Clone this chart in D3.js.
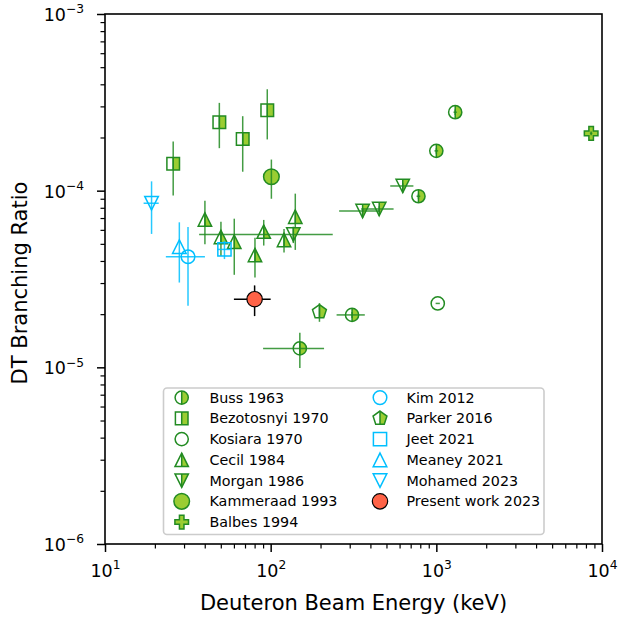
<!DOCTYPE html>
<html><head><meta charset="utf-8">
<script src="https://cdn.jsdelivr.net/npm/d3@7"></script>
<style>
body{margin:0;background:#fff}
svg{display:block}
text{font-family:"DejaVu Sans",sans-serif;fill:#000}
</style>
</head><body>
<svg id="c" width="618" height="618"></svg>
<script>
// ---------------- data ----------------
const bussE = [150, 310, 780, 1000, 1300];
const bussBR = [1.28e-5, 1.98e-5, 9.3e-5, 1.68e-4, 2.78e-4];
const bussEErr = [60, 60, 20, 25, 30];
const bussBRErr = [0.29e-5, 0.08e-5, 0.3e-5, 0.6e-5, 1.0e-5];

const bezE = [25.8, 49, 67.8, 95.4];
const bezBR = [1.42e-4, 2.44e-4, 1.96e-4, 2.85e-4];
const bezEErr = [0, 0, 0, 0];
const bezBRErr = [0.48e-4, 0.70e-4, 0.68e-4, 0.90e-4];

const kosE = [1020];
const kosBR = [2.3e-5];
const kosEErr = [30];
const kosBRErr = [0];

const cecE = [40.1, 50.1, 60.3, 80.4, 90.8, 120.4, 140.8];
const cecBR = [6.87e-5, 5.47e-5, 5.14e-5, 4.32e-5, 5.86e-5, 5.26e-5, 7.12e-5];
const cecEErr = [0, 0, 0, 0, 0, 0, 0];
const cecBRErr = [1.9e-5, 1.2e-5, 1.8e-5, 1.1e-5, 0.97e-5, 0.8e-5, 2.5e-5];

const morE = [137, 359, 452, 627];
const morBR = [5.65e-5, 7.67e-5, 7.87e-5, 1.063e-4];
const morEErr = [100, 100, 100, 100];
const morBRErr = [0.6e-5, 0.3e-5, 0.3e-5, 0.4e-5];

const kamE = [101];
const kamBR = [1.2e-4];
const kamEErr = [0];
const kamBRErr = [0.3e-4];

const balE = [8600];
const balBR = [2.11e-4];
const balEErr = [150];
const balBRErr = [0.05e-4];

const kimE = [31.7];
const kimBR = [4.23e-5];
const kimEErr = [8.4];
const kimBRErr = [2.0e-5];

const parE = [197];
const parBR = [2.06e-5];
const parEErr = [0];
const parBRErr = [0.25e-5];

const jeetE = [52.6];
const jeetBR = [4.65e-5];
const jeetEErr = [5];
const jeetBRErr = [0.55e-5];

const meaE = [28.1];
const meaBR = [4.82e-5];
const meaEErr = [0];
const meaBRErr = [1.8e-5];

const mohE = [19.1];
const mohBR = [8.49e-5];
const mohEErr = [2];
const mohBRErr = [2.8e-5];

const preE = [80];
const preBR = [2.43e-5];
const preEErr = [20];
const preBRErr = [0.48e-5];

const seriesLabels = ["Buss 1963","Bezotosnyi 1970","Kosiara 1970","Cecil 1984","Morgan 1986",
  "Kammeraad 1993","Balbes 1994","Kim 2012","Parker 2016","Jeet 2021","Meaney 2021",
  "Mohamed 2023","Present work 2023"];
const xTickExp = [1, 2, 3, 4];
const yTickExp = [-6, -5, -4, -3];

// ---------------- styles ----------------
const GREEN = "#228B22", LIGHT = "#9ACD32", CYAN = "#00BFFF", TOMATO = "#FF6347";
const zip = (e, v, ex, ey) => e.map((d, i) => ({e: d, v: v[i], ex: ex[i], ey: ey[i]}));
const series = [
  {label: seriesLabels[0], pts: zip(bussE, bussBR, bussEErr, bussBRErr), shape: "circle", size: 6.6, fill: "right", edge: GREEN, face: LIGHT, bar: GREEN, top: true},
  {label: seriesLabels[1], pts: zip(bezE, bezBR, bezEErr, bezBRErr), shape: "square", size: 6.3, fill: "right", edge: GREEN, face: LIGHT, bar: GREEN, top: true},
  {label: seriesLabels[2], pts: zip(kosE, kosBR, kosEErr, kosBRErr), shape: "circle", size: 6.6, fill: "none", edge: GREEN, face: LIGHT, bar: GREEN, top: true},
  {label: seriesLabels[3], pts: zip(cecE, cecBR, cecEErr, cecBRErr), shape: "triUp", size: 6.7, fill: "right", edge: GREEN, face: LIGHT, bar: GREEN, top: true},
  {label: seriesLabels[4], pts: zip(morE, morBR, morEErr, morBRErr), shape: "triDown", size: 6.7, fill: "right", edge: GREEN, face: LIGHT, bar: GREEN, top: true},
  {label: seriesLabels[5], pts: zip(kamE, kamBR, kamEErr, kamBRErr), shape: "circle", size: 7.8, fill: "full", edge: GREEN, face: LIGHT, bar: GREEN, top: true},
  {label: seriesLabels[6], pts: zip(balE, balBR, balEErr, balBRErr), shape: "plus", size: 6.8, fill: "full", edge: GREEN, face: LIGHT, bar: GREEN, top: true},
  {label: seriesLabels[7], pts: zip(kimE, kimBR, kimEErr, kimBRErr), shape: "circle", size: 6.8, fill: "none", edge: CYAN, face: CYAN, bar: CYAN, top: true},
  {label: seriesLabels[8], pts: zip(parE, parBR, parEErr, parBRErr), shape: "pent", size: 7.3, fill: "right", edge: GREEN, face: LIGHT, bar: GREEN, top: true},
  {label: seriesLabels[9], pts: zip(jeetE, jeetBR, jeetEErr, jeetBRErr), shape: "square", size: 6.6, fill: "none", edge: CYAN, face: CYAN, bar: CYAN, top: true},
  {label: seriesLabels[10], pts: zip(meaE, meaBR, meaEErr, meaBRErr), shape: "triUp", size: 6.8, fill: "none", edge: CYAN, face: CYAN, bar: CYAN, top: true},
  {label: seriesLabels[11], pts: zip(mohE, mohBR, mohEErr, mohBRErr), shape: "triDown", size: 6.8, fill: "none", edge: CYAN, face: CYAN, bar: CYAN, top: true},
  {label: seriesLabels[12], pts: zip(preE, preBR, preEErr, preBRErr), shape: "circle", size: 7.7, fill: "full", edge: "#000", face: TOMATO, bar: "#000", top: false, sw: 1.2}
];

// ---------------- geometry ----------------
const m = {l: 105, r: 602, t: 14, b: 544};
const svg = d3.select("#c");
const x = d3.scaleLog().domain([10, 1e4]).range([m.l, m.r]);
const y = d3.scaleLog().domain([1e-6, 1e-3]).range([m.b, m.t]);

const defs = svg.append("defs");
defs.append("clipPath").attr("id", "rh").attr("clipPathUnits", "objectBoundingBox")
  .append("rect").attr("x", 0.5).attr("y", 0).attr("width", 0.5).attr("height", 1);
defs.append("clipPath").attr("id", "plot")
  .append("rect").attr("x", m.l).attr("y", m.t).attr("width", m.r - m.l).attr("height", m.b - m.t);

function shapePath(shape, s) {
  if (shape === "circle") return {d: `M${s},0A${s},${s} 0 1,1 ${-s},0A${s},${s} 0 1,1 ${s},0Z`, top: -s, bot: s};
  if (shape === "square") return {d: `M${-s},${-s}H${s}V${s}H${-s}Z`, top: -s, bot: s};
  if (shape === "triUp") return {d: `M0,${-s}L${s},${s}L${-s},${s}Z`, top: -s, bot: s};
  if (shape === "triDown") return {d: `M0,${s}L${s},${-s}L${-s},${-s}Z`, top: -s, bot: s};
  if (shape === "pent") {
    const p = d3.range(5).map(k => { const a = (-90 + 72 * k) * Math.PI / 180; return [s * Math.cos(a), s * Math.sin(a)]; });
    return {d: "M" + p.map(q => q.join(",")).join("L") + "Z", top: -s, bot: s * Math.cos(Math.PI / 5)};
  }
  if (shape === "plus") {
    const a = s, b = s / 3;
    return {d: `M${-b},${-a}H${b}V${-b}H${a}V${b}H${b}V${a}H${-b}V${b}H${-a}V${-b}H${-b}Z`, top: -a, bot: a};
  }
}

function drawMarker(g, sr, cx, cy) {
  const sp = shapePath(sr.shape, sr.size);
  const sw = sr.sw || 1.5;
  const mg = g.append("g").attr("transform", `translate(${cx},${cy})`);
  if (sr.fill === "full") {
    mg.append("path").attr("d", sp.d).attr("fill", sr.face).attr("stroke", sr.edge).attr("stroke-width", sw);
  } else if (sr.fill === "right") {
    mg.append("path").attr("d", sp.d).attr("fill", sr.face).attr("stroke", "none").attr("clip-path", "url(#rh)");
    mg.append("line").attr("x1", 0).attr("x2", 0).attr("y1", sp.top).attr("y2", sp.bot)
      .attr("stroke", sr.edge).attr("stroke-width", sw);
    mg.append("path").attr("d", sp.d).attr("fill", "none").attr("stroke", sr.edge).attr("stroke-width", sw)
      .attr("stroke-linejoin", "miter");
  } else {
    mg.append("path").attr("d", sp.d).attr("fill", "none").attr("stroke", sr.edge).attr("stroke-width", sw);
  }
}

function drawBars(g, sr) {
  const op = sr.bar === "#000" ? 1 : 0.85;
  sr.pts.forEach(p => {
    if (p.ey > 0) g.append("line").attr("x1", x(p.e)).attr("x2", x(p.e))
      .attr("y1", y(p.v - p.ey)).attr("y2", y(p.v + p.ey))
      .attr("stroke", sr.bar).attr("stroke-width", 1.5).attr("stroke-opacity", op);
    if (p.ex > 0) g.append("line").attr("y1", y(p.v)).attr("y2", y(p.v))
      .attr("x1", x(p.e - p.ex)).attr("x2", x(p.e + p.ex))
      .attr("stroke", sr.bar).attr("stroke-width", 1.5).attr("stroke-opacity", op);
  });
}

// ---------------- axes ----------------
const supLabel = (sel) => sel.each(function(d) {
  const t = d3.select(this); t.text(null);
  t.append("tspan").text("10");
  const e = Math.round(Math.log10(d));
  t.append("tspan").attr("font-size", "0.7em").attr("dy", "-0.65em").text(String(e).replace("-", "\u2212"));
});

const xMajor = xTickExp.map(e => Math.pow(10, e));
const yMajor = yTickExp.map(e => Math.pow(10, e));
const xMinor = d3.range(1, 4).flatMap(e => d3.range(2, 10).map(k => k * Math.pow(10, e)));
const yMinor = d3.range(-6, -3).flatMap(e => d3.range(2, 10).map(k => k * Math.pow(10, e)));

const gx = svg.append("g").attr("transform", `translate(0,${m.b})`);
gx.append("g").call(d3.axisBottom(x).tickValues(xMinor).tickSize(4.5).tickFormat(""))
  .call(g => g.select(".domain").remove())
  .call(g => g.selectAll("line").attr("stroke-width", 1.2));
gx.append("g").call(d3.axisBottom(x).tickValues(xMajor).tickSize(8))
  .call(g => g.select(".domain").remove())
  .call(g => g.selectAll("line").attr("stroke-width", 1.5))
  .call(g => g.selectAll("text").attr("y", 33).attr("dy", 0).attr("font-size", 17.5)
    .attr("font-family", "DejaVu Sans").call(supLabel));

const gy = svg.append("g").attr("transform", `translate(${m.l},0)`);
gy.append("g").call(d3.axisLeft(y).tickValues(yMinor).tickSize(4.5).tickFormat(""))
  .call(g => g.select(".domain").remove())
  .call(g => g.selectAll("line").attr("stroke-width", 1.2));
gy.append("g").call(d3.axisLeft(y).tickValues(yMajor).tickSize(8))
  .call(g => g.select(".domain").remove())
  .call(g => g.selectAll("line").attr("stroke-width", 1.5))
  .call(g => g.selectAll("text").attr("x", -21).attr("dy", "0.38em").attr("font-size", 17.5)
    .attr("font-family", "DejaVu Sans").call(supLabel));

svg.append("text").attr("x", (m.l + m.r) / 2).attr("y", 610).attr("text-anchor", "middle")
  .attr("font-size", 21).text("Deuteron Beam Energy (keV)");
svg.append("text").attr("transform", `translate(27,283) rotate(-90)`)
  .attr("text-anchor", "middle").attr("font-size", 21).text("DT Branching Ratio");

// ---------------- data marks ----------------
const plot = svg.append("g").attr("clip-path", "url(#plot)");
series.forEach(sr => {
  const g = plot.append("g");
  if (!sr.top) drawBars(g, sr);
  sr.pts.forEach(p => drawMarker(g, sr, x(p.e), y(p.v)));
  if (sr.top) drawBars(g, sr);
});

// frame
svg.append("rect").attr("x", m.l).attr("y", m.t).attr("width", m.r - m.l).attr("height", m.b - m.t)
  .attr("fill", "none").attr("stroke", "#000").attr("stroke-width", 1.6);

// ---------------- legend ----------------
const lg = svg.append("g");
lg.append("rect").attr("x", 163.5).attr("y", 388).attr("width", 380.5).attr("height", 146.5)
  .attr("rx", 3.5).attr("fill", "#fff").attr("fill-opacity", 0.8).attr("stroke", "#cccccc").attr("stroke-width", 1.6);
series.forEach((sr, i) => {
  const col = i < 7 ? 0 : 1, row = i < 7 ? i : i - 7;
  const mx = col === 0 ? 181.7 : 380, tx = col === 0 ? 209.5 : 406.5;
  const yy = 397.6 + row * 20.75;
  drawMarker(lg, sr, mx, yy);
  lg.append("text").attr("x", tx).attr("y", yy).attr("dy", "0.36em").attr("font-size", 14.3).text(sr.label);
});
</script>
</body></html>
